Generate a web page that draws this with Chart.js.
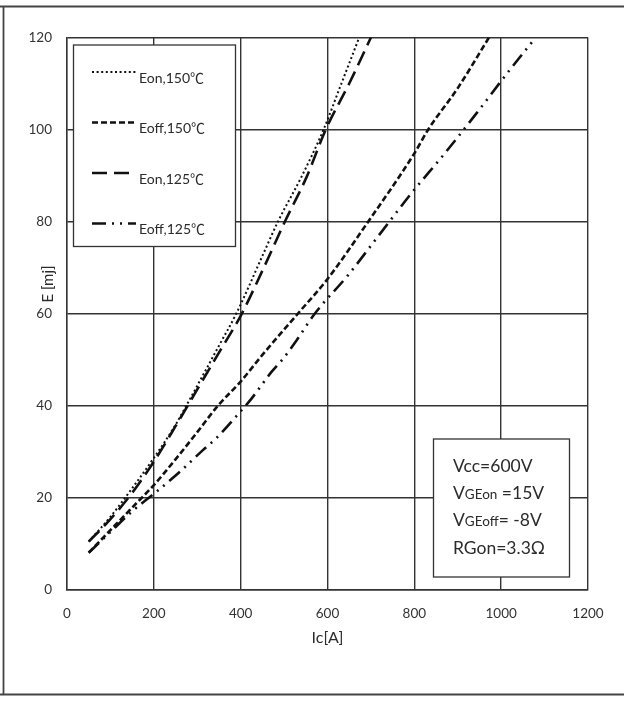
<!DOCTYPE html>
<html>
<head>
<meta charset="utf-8">
<script src="https://cdn.jsdelivr.net/npm/chart.js@4.4.1/dist/chart.umd.min.js"></script>
<style>
  html, body { margin: 0; padding: 0; background: #fff; }
  canvas { display: block; }
</style>
</head>
<body>
<canvas id="lossChart" width="624" height="702"></canvas>
<script>
// values (Ic in A, E in mJ)
const eon150X = [50, 100, 150, 200, 250, 275, 300, 350, 390, 450, 486, 540, 591, 630, 673];
const eon150Y = [10.4, 15.8, 22, 28.6, 35.8, 40, 44.3, 53, 60, 72.5, 80, 89.7, 100, 109.5, 120];

const eoff150X = [50, 100, 150, 200, 250, 300, 348, 400, 450, 532, 600, 694, 800, 832, 900, 972];
const eoff150Y = [8, 12.9, 17.8, 22.7, 28.3, 34.2, 40, 45.2, 51, 60, 67.5, 80, 94.8, 100, 109, 120];

const eon125X = [50, 100, 150, 200, 250, 300, 350, 400, 450, 502, 552, 596, 650, 700];
const eon125Y = [10.4, 15.3, 21, 27.8, 35.5, 43.5, 51.5, 59.5, 69.3, 80, 89.7, 100, 110, 120];

const eoff125X = [50, 100, 150, 200, 260, 313, 344, 396, 425, 471, 498, 529, 571, 647, 720, 793, 870, 943, 1016, 1078];
const eoff125Y = [8, 12.5, 17, 20.8, 25.6, 30.3, 32.9, 38.3, 41.5, 47.3, 50.2, 54.2, 60, 68.3, 77.2, 86.1, 94.8, 103.5, 112.5, 119.8];

const seriesNames = ['Eon,150℃', 'Eoff,150℃', 'Eon,125℃', 'Eoff,125℃'];
const conditions = [
  ['Vcc=600V'],
  ['V', 'GEon', ' =15V'],
  ['V', 'GEoff', '= -8V'],
  ['RGon=3.3Ω']
];

const pts = (xs, ys) => xs.map((x, i) => ({ x: x, y: ys[i] }));
const FONT = "Lato, 'Noto Sans CJK SC', sans-serif";
const INK = '#2b2b2b';

function line(data, dash, width) {
  return {
    data: data,
    showLine: true,
    borderColor: '#111',
    borderWidth: width,
    borderDash: dash,
    pointRadius: 0,
    cubicInterpolationMode: 'monotone',
    fill: false
  };
}

// frame round the whole picture
const framePlugin = {
  id: 'frame',
  beforeDraw(chart) {
    const c = chart.ctx;
    c.save();
    c.fillStyle = '#fff';
    c.fillRect(0, 0, chart.width, chart.height);
    c.strokeStyle = '#444';
    c.lineWidth = 1.8;
    c.beginPath();
    c.moveTo(0, 6.5); c.lineTo(chart.width, 6.5);
    c.moveTo(3.5, 6.5); c.lineTo(3.5, 694.5);
    c.moveTo(0, 694.5); c.lineTo(chart.width, 694.5);
    c.stroke();
    c.restore();
  }
};

// axis titles, legend box and test-condition box
const boxesPlugin = {
  id: 'boxes',
  afterDatasetsDraw(chart) {
    const c = chart.ctx;
    const area = chart.chartArea;
    c.save();
    c.fillStyle = INK;

    // axis titles
    c.font = '16px ' + FONT;
    c.textAlign = 'center';
    c.textBaseline = 'middle';
    c.fillText('Ic[A]', (area.left + area.right) / 2, area.bottom + 48);
    c.save();
    c.font = '15px ' + FONT;
    c.translate(area.left - 19, 284);
    c.rotate(-Math.PI / 2);
    c.fillText('E [mj]', 0, 0);
    c.restore();

    // legend
    c.fillStyle = '#fff';
    c.fillRect(73.5, 45, 162, 201.5);
    c.strokeStyle = '#333';
    c.lineWidth = 1.3;
    c.strokeRect(73.5, 45, 162, 201.5);
    c.font = '14px ' + FONT;
    c.textAlign = 'left';
    chart.data.datasets.forEach((ds, i) => {
      const y = 72 + i * 50.5;
      c.save();
      c.strokeStyle = '#111';
      c.lineWidth = ds.borderWidth;
      c.setLineDash(ds.borderDash);
      c.beginPath();
      c.moveTo(92, y);
      c.lineTo(136, y);
      c.stroke();
      c.restore();
      c.fillStyle = INK;
      c.fillText(seriesNames[i], 139, y + 6);
    });

    // conditions box
    c.fillStyle = '#fff';
    c.fillRect(433.5, 439, 136, 138);
    c.strokeRect(433.5, 439, 136, 138);
    c.fillStyle = INK;
    conditions.forEach((parts, i) => {
      let x = 453;
      const y = 472 + i * 27.2;
      parts.forEach((p, j) => {
        const small = parts.length > 1 && j === 1;
        c.font = (small ? '13.5px ' : '17.5px ') + FONT;
        c.textBaseline = 'alphabetic';
        c.fillText(p, x, y);
        x += c.measureText(p).width;
      });
    });
    c.restore();
  }
};

const ctx = document.getElementById('lossChart').getContext('2d');
new Chart(ctx, {
  type: 'scatter',
  data: {
    datasets: [
      line(pts(eon150X, eon150Y), [2, 2.6], 2),
      line(pts(eoff150X, eoff150Y), [6, 3], 2.6),
      line(pts(eon125X, eon125Y), [15, 7], 2.6),
      line(pts(eoff125X, eoff125Y), [14, 6, 2, 6, 2, 6], 2.6)
    ]
  },
  options: {
    responsive: false,
    animation: false,
    layout: { padding: { top: 37.5, right: 36, left: 0, bottom: 0 } },
    plugins: {
      legend: { display: false },
      tooltip: { enabled: false }
    },
    scales: {
      x: {
        type: 'linear',
        min: 0,
        max: 1200,
        afterFit: (s) => { s.height = 112.5; },
        ticks: {
          stepSize: 200, padding: 16, color: '#333',
          font: { family: FONT, size: 13.5 },
          callback: (v) => String(v)
        },
        grid: { color: '#333', lineWidth: 1.4, drawTicks: false },
        border: { color: '#333', width: 1.4 }
      },
      y: {
        min: 0,
        max: 120,
        afterFit: (s) => { s.width = 67; },
        ticks: {
          stepSize: 20, padding: 15, color: '#333',
          font: { family: FONT, size: 13.5 },
          callback: (v) => String(v)
        },
        grid: { color: '#333', lineWidth: 1.4, drawTicks: false },
        border: { color: '#333', width: 1.4 }
      }
    }
  },
  plugins: [framePlugin, boxesPlugin]
});
</script>
</body>
</html>
